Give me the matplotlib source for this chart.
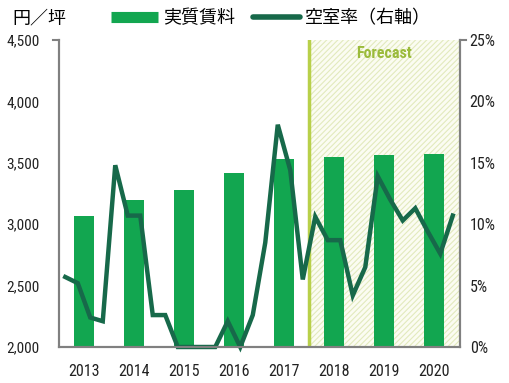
import matplotlib.pyplot as plt
from matplotlib.patches import Rectangle
from matplotlib.lines import Line2D

plt.rcParams['font.family'] = ['Noto Sans CJK JP', 'DejaVu Sans']
plt.rcParams['hatch.linewidth'] = 0.8

years = [2013, 2014, 2015, 2016, 2017, 2018, 2019, 2020]
rent = [3070, 3200, 3280, 3420, 3530, 3550, 3560, 3570]

# quarterly vacancy rate (%), 2013Q1 - 2020Q4
vacancy = [5.7, 5.2, 2.4, 2.1, 14.8, 10.7, 10.7, 2.6,
           2.6, 0.0, 0.0, 0.0, 0.0, 2.1, 0.0, 2.6,
           8.5, 18.1, 14.4, 5.5, 10.6, 8.7, 8.7, 4.2,
           6.5, 13.9, 12.0, 10.3, 11.3, 9.4, 7.6, 10.7]
quarter_x = [y + (q - 1.5) / 4 for y in years for q in range(4)]

forecast_start = 2017.5

bar_color = '#12a650'
line_color = '#17694a'
spine_color = '#808080'
tick_font = 'Roboto Condensed'

fig = plt.figure(figsize=(5.1, 3.83), dpi=100)
ax = fig.add_axes([0.1157, 0.094, 0.7863, 0.8016])
ax2 = ax.twinx()

ax.set_xlim(2012.5, 2020.52)
ax.set_ylim(2000, 4500)
ax2.set_ylim(0, 25)

# forecast shaded region
ax.add_patch(Rectangle((forecast_start, 2000), 2020.52 - forecast_start, 2500,
                       facecolor='#fbfcf2', edgecolor='#e2eabd', hatch='//////',
                       lw=0, zorder=0))
ax.axvline(forecast_start, color='#b8d04a', lw=2.5, zorder=1)
ax.text(2019.0, 4390, 'Forecast', color='#9bbb3b', fontsize=11.5, fontweight='bold',
        family=tick_font, ha='center', va='center')

ax.bar(years, [r - 2000 for r in rent], bottom=2000, width=0.4, color=bar_color, zorder=2)
ax2.plot(quarter_x, vacancy, color=line_color, lw=3.2, solid_joinstyle='miter', clip_on=False)

ax.set_xticks(years)
ax.set_xticklabels([str(y) for y in years], family=tick_font, fontsize=11.5)
ax.set_yticks(range(2000, 4501, 500))
ax.set_yticklabels([f'{v:,}' for v in range(2000, 4501, 500)], family=tick_font, fontsize=11)
ax2.set_yticks(range(0, 26, 5))
ax2.set_yticklabels([f'{v}%' for v in range(0, 26, 5)], family=tick_font, fontsize=11.5)

for a in (ax, ax2):
    a.tick_params(length=0, colors='#222222')
    a.spines['top'].set_visible(False)
    for s in ('left', 'right', 'bottom'):
        a.spines[s].set_color(spine_color)
        a.spines[s].set_linewidth(1.5)
ax.tick_params(axis='y', pad=14)
ax2.tick_params(axis='y', pad=7)
ax.tick_params(axis='x', pad=12)

# small caps at top of the spines
ax.plot([-0.015, 0], [1, 1], transform=ax.transAxes, clip_on=False, color=spine_color, lw=1.5)
ax.plot([1, 1.015], [1, 1], transform=ax.transAxes, clip_on=False, color=spine_color, lw=1.5)

fig.text(0.024, 0.953, '円／坪', fontsize=13, va='center', ha='left')
handles = [Line2D([], [], color=bar_color, lw=8, solid_capstyle='butt'),
           Line2D([], [], color=line_color, lw=4, solid_capstyle='round')]
fig.legend(handles, ['実質賃料', '空室率（右軸）'], loc='center left',
           bbox_to_anchor=(0.185, 0.953), ncol=2, frameon=False, fontsize=13,
           handlelength=2.6, handletextpad=0.3, columnspacing=1.0)

fig.savefig('out.png', dpi=100)
